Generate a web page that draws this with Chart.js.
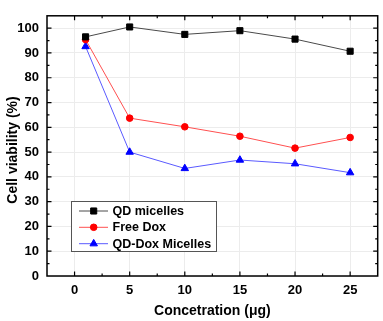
<!DOCTYPE html>
<html>
<head>
<title>Cell viability</title>
<script src="https://cdn.jsdelivr.net/npm/chart.js"></script>
<style>
  body{ margin:0; background:#fff; }
  #wrap{ width:383px; height:321px; }
</style>
</head>
<body>
<div id="wrap"><canvas id="myChart" width="383" height="321"></canvas></div>
<script>
// data
const conc = [1, 5, 10, 15, 20, 25];
const qdMicelles = [96.5, 100.5, 97.5, 99.0, 95.6, 90.7];
const freeDox = [95.4, 63.7, 60.2, 56.4, 51.6, 55.9];
const qdDoxMicelles = [92.6, 50.0, 43.4, 46.8, 45.3, 41.7];
const xTicks = [0, 5, 10, 15, 20, 25];
const yTicks = [0, 10, 20, 30, 40, 50, 60, 70, 80, 90, 100];
const seriesNames = ['QD micelles', 'Free Dox', 'QD-Dox Micelles'];

const FONT = 'Liberation Sans, Arial, sans-serif';

function pts(vals){
  return conc.map((c, i) => ({x: c, y: vals[i]}));
}

const series = [
  {label: seriesNames[0], data: pts(qdMicelles), line: '#4a4a4a', fill: '#000000', style: 'rect', r: 4.3},
  {label: seriesNames[1], data: pts(freeDox), line: '#ff5050', fill: '#ff0000', style: 'circle', r: 3.3},
  {label: seriesNames[2], data: pts(qdDoxMicelles), line: '#5a5aff', fill: '#0000ff', style: 'triangle', r: 4.3}
];

// frame, inward ticks, legend box and y title
const decor = {
  id: 'decor',
  afterDraw(chart){
    const ctx = chart.ctx;
    const a = chart.chartArea;
    const xs = chart.scales.x, ys = chart.scales.y;
    ctx.save();
    ctx.strokeStyle = '#000';
    ctx.lineWidth = 1.5;
    ctx.strokeRect(a.left, a.top, a.right - a.left, a.bottom - a.top);

    ctx.lineWidth = 1.2;
    ctx.beginPath();
    for (let v = 0; v <= 25; v += 2.5) {
      const px = xs.getPixelForValue(v);
      const len = (v % 5 === 0) ? 4.5 : 2.5;
      ctx.moveTo(px, a.bottom); ctx.lineTo(px, a.bottom - len);
      ctx.moveTo(px, a.top); ctx.lineTo(px, a.top + len);
    }
    for (let v = 5; v <= 100; v += 5) {
      const py = ys.getPixelForValue(v);
      const len = (v % 10 === 0) ? 4.5 : 2.5;
      ctx.moveTo(a.left, py); ctx.lineTo(a.left + len, py);
      ctx.moveTo(a.right, py); ctx.lineTo(a.right - len, py);
    }
    ctx.stroke();

    // legend
    const lx = 71, ly = 201, lw = 145, lh = 50;
    ctx.fillStyle = '#fff';
    ctx.fillRect(lx, ly, lw, lh);
    ctx.strokeStyle = '#555';
    ctx.lineWidth = 1;
    ctx.strokeRect(lx + 0.5, ly + 0.5, lw, lh);
    const rows = [211, 227.3, 243.7];
    series.forEach((s, i) => {
      const y = rows[i];
      ctx.strokeStyle = s.line;
      ctx.lineWidth = 1;
      ctx.beginPath();
      ctx.moveTo(79, y); ctx.lineTo(108, y);
      ctx.stroke();
      ctx.fillStyle = s.fill;
      ctx.strokeStyle = s.fill;
      Chart.helpers.drawPoint(ctx, {pointStyle: s.style, radius: s.r, rotation: 0, borderWidth: 1}, 93.7, y);
      ctx.fillStyle = '#000';
      ctx.font = 'bold 12.5px ' + FONT;
      ctx.textAlign = 'left';
      ctx.textBaseline = 'middle';
      ctx.fillText(s.label, 112.5, y + 0.5);
    });

    // y axis title
    ctx.translate(13, 150);
    ctx.rotate(-Math.PI / 2);
    ctx.fillStyle = '#000';
    ctx.font = 'bold 14px ' + FONT;
    ctx.textAlign = 'center';
    ctx.textBaseline = 'middle';
    ctx.fillText('Cell viability (%)', 0, 0);
    ctx.restore();
  }
};

new Chart(document.getElementById('myChart'), {
  type: 'scatter',
  data: {
    datasets: series.map(s => ({
      label: s.label,
      data: s.data,
      showLine: true,
      borderColor: s.line,
      borderWidth: 1,
      pointStyle: s.style,
      pointRadius: s.r,
      pointBackgroundColor: s.fill,
      pointBorderColor: s.fill,
      pointBorderWidth: 1,
      tension: 0
    }))
  },
  options: {
    responsive: false,
    animation: false,
    layout: {padding: {top: 4, right: 4, left: 0, bottom: 0}},
    plugins: {legend: {display: false}, tooltip: {enabled: false}},
    scales: {
      x: {
        type: 'linear',
        min: -2.5,
        max: 27.5,
        afterBuildTicks: s => { s.ticks = xTicks.map(v => ({value: v})); },
        afterFit: s => { s.height = 45; },
        grid: {color: '#ececec', drawTicks: false},
        border: {display: false},
        ticks: {color: '#000', font: {family: FONT, size: 13, weight: 'bold'}, padding: 7},
        title: {display: true, text: 'Concetration (μg)', color: '#000',
                font: {family: FONT, size: 14, weight: 'bold'}, padding: {top: 0, bottom: 1}}
      },
      y: {
        min: 0,
        max: 105,
        afterBuildTicks: s => { s.ticks = yTicks.map(v => ({value: v})); },
        afterFit: s => { s.width = 47; },
        grid: {color: '#ececec', drawTicks: false},
        border: {display: false},
        ticks: {color: '#000', font: {family: FONT, size: 13, weight: 'bold'}, padding: 8}
      }
    }
  },
  plugins: [decor]
});
</script>
</body>
</html>
